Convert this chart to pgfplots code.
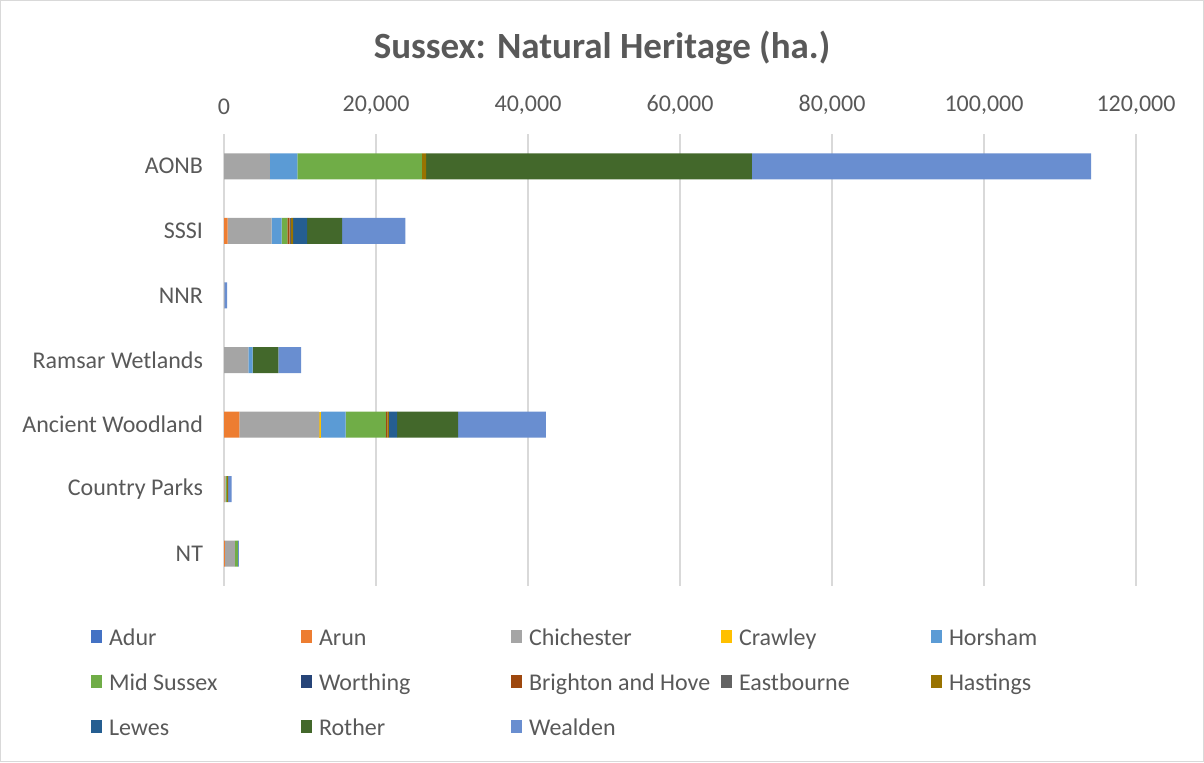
\documentclass[border=0pt]{standalone}
\usepackage{pgfplots}
\pgfplotsset{compat=1.18}
\usepackage{fontspec}
\setmainfont{Carlito}
\definecolor{cAdur}{HTML}{4472C4}
\definecolor{cArun}{HTML}{ED7D31}
\definecolor{cChi}{HTML}{A5A5A5}
\definecolor{cCraw}{HTML}{FFC000}
\definecolor{cHor}{HTML}{5B9BD5}
\definecolor{cMid}{HTML}{70AD47}
\definecolor{cWor}{HTML}{264478}
\definecolor{cBri}{HTML}{9E480E}
\definecolor{cEas}{HTML}{636363}
\definecolor{cHas}{HTML}{997300}
\definecolor{cLew}{HTML}{255E91}
\definecolor{cRot}{HTML}{43682B}
\definecolor{cWea}{HTML}{698ED0}
\definecolor{txt}{HTML}{595959}
\definecolor{gridc}{HTML}{D9D9D9}
\newcommand{\legent}[1]{\addlegendentry{\makebox[92.5pt][l]{\strut #1}}}
\begin{document}
\begin{tikzpicture}
\useasboundingbox (0,0) rectangle (602pt,381pt);
\draw[gridc, line width=0.5pt] (0.25pt,0.25pt) rectangle (601.75pt,380.75pt);
\node[text=txt, font=\fontsize{18.5}{22}\selectfont\bfseries] at (301pt,357pt) {Sussex: Natural Heritage (ha.)};
\begin{axis}[
  at={(112pt,314pt)}, anchor=north west,
  scale only axis, width=456pt, height=226pt,
  xbar stacked, bar width=13pt,
  y dir=reverse, ymin=-0.5, ymax=6.5,
  ytick={0,1,2,3,4,5,6},
  yticklabels={AONB,SSSI,NNR,Ramsar Wetlands,Ancient Woodland,Country Parks,NT},
  xmin=0, xmax=120000,
  xtick={0,20000,40000,60000,80000,100000,120000},
  xticklabels={0,{20,000},{40,000},{60,000},{80,000},{100,000},{120,000}},
  xticklabel pos=right,
  scaled x ticks=false,
  xticklabel style={yshift=6pt},
  yticklabel style={xshift=-7pt},
  ticklabel style={font=\fontsize{12}{14}\selectfont, text=txt},
  axis line style={draw=none},
  major tick length=0pt,
  xmajorgrids, ymajorgrids=false,
  x grid style={gridc, line width=0.9pt},
  enlargelimits=false,
  legend columns=5,
  legend cell align=left,
  legend style={at={(-0.1458,-0.0785)}, anchor=north west, draw=none, fill=none,
    inner sep=0pt, outer sep=0pt, column sep=1.5pt, row sep=7pt,
    font=\fontsize{12}{14.4}\selectfont, text=txt},
  legend image code/.code={\fill[#1] (0pt,-3pt) rectangle (5.5pt,3.5pt);},
]
\addplot[fill=cAdur, draw=none] coordinates {(0,0) (0,1) (0,2) (0,3) (0,4) (0,5) (0,6)}; \legent{Adur}
\addplot[fill=cArun, draw=none] coordinates {(0,0) (480,1) (0,2) (0,3) (2010,4) (50,5) (100,6)}; \legent{Arun}
\addplot[fill=cChi, draw=none] coordinates {(6050,0) (5790,1) (60,2) (3200,3) (10530,4) (150,5) (1320,6)}; \legent{Chichester}
\addplot[fill=cCraw, draw=none] coordinates {(0,0) (0,1) (0,2) (0,3) (200,4) (0,5) (0,6)}; \legent{Crawley}
\addplot[fill=cHor, draw=none] coordinates {(3600,0) (1320,1) (0,2) (580,3) (3250,4) (0,5) (0,6)}; \legent{Horsham}
\addplot[fill=cMid, draw=none] coordinates {(16370,0) (740,1) (0,2) (0,3) (5300,4) (170,5) (390,6)}; \legent{Mid Sussex}
\addplot[fill=cWor, draw=none] coordinates {(0,0) (0,1) (0,2) (0,3) (0,4) (0,5) (0,6)}; \legent{Worthing}
\addplot[fill=cBri, draw=none] coordinates {(0,0) (300,1) (0,2) (0,3) (200,4) (0,5) (0,6)}; \legent{Brighton and Hove}
\addplot[fill=cEas, draw=none] coordinates {(0,0) (200,1) (0,2) (0,3) (0,4) (0,5) (0,6)}; \legent{Eastbourne}
\addplot[fill=cHas, draw=none] coordinates {(570,0) (270,1) (0,2) (0,3) (200,4) (180,5) (0,6)}; \legent{Hastings}
\addplot[fill=cLew, draw=none] coordinates {(0,0) (1840,1) (0,2) (0,3) (1100,4) (0,5) (0,6)}; \legent{Lewes}
\addplot[fill=cRot, draw=none] coordinates {(42850,0) (4600,1) (0,2) (3370,3) (8030,4) (0,5) (0,6)}; \legent{Rother}
\addplot[fill=cWea, draw=none] coordinates {(44650,0) (8340,1) (340,2) (2990,3) (11540,4) (450,5) (150,6)}; \legent{Wealden}
\end{axis}
\end{tikzpicture}
\end{document}
